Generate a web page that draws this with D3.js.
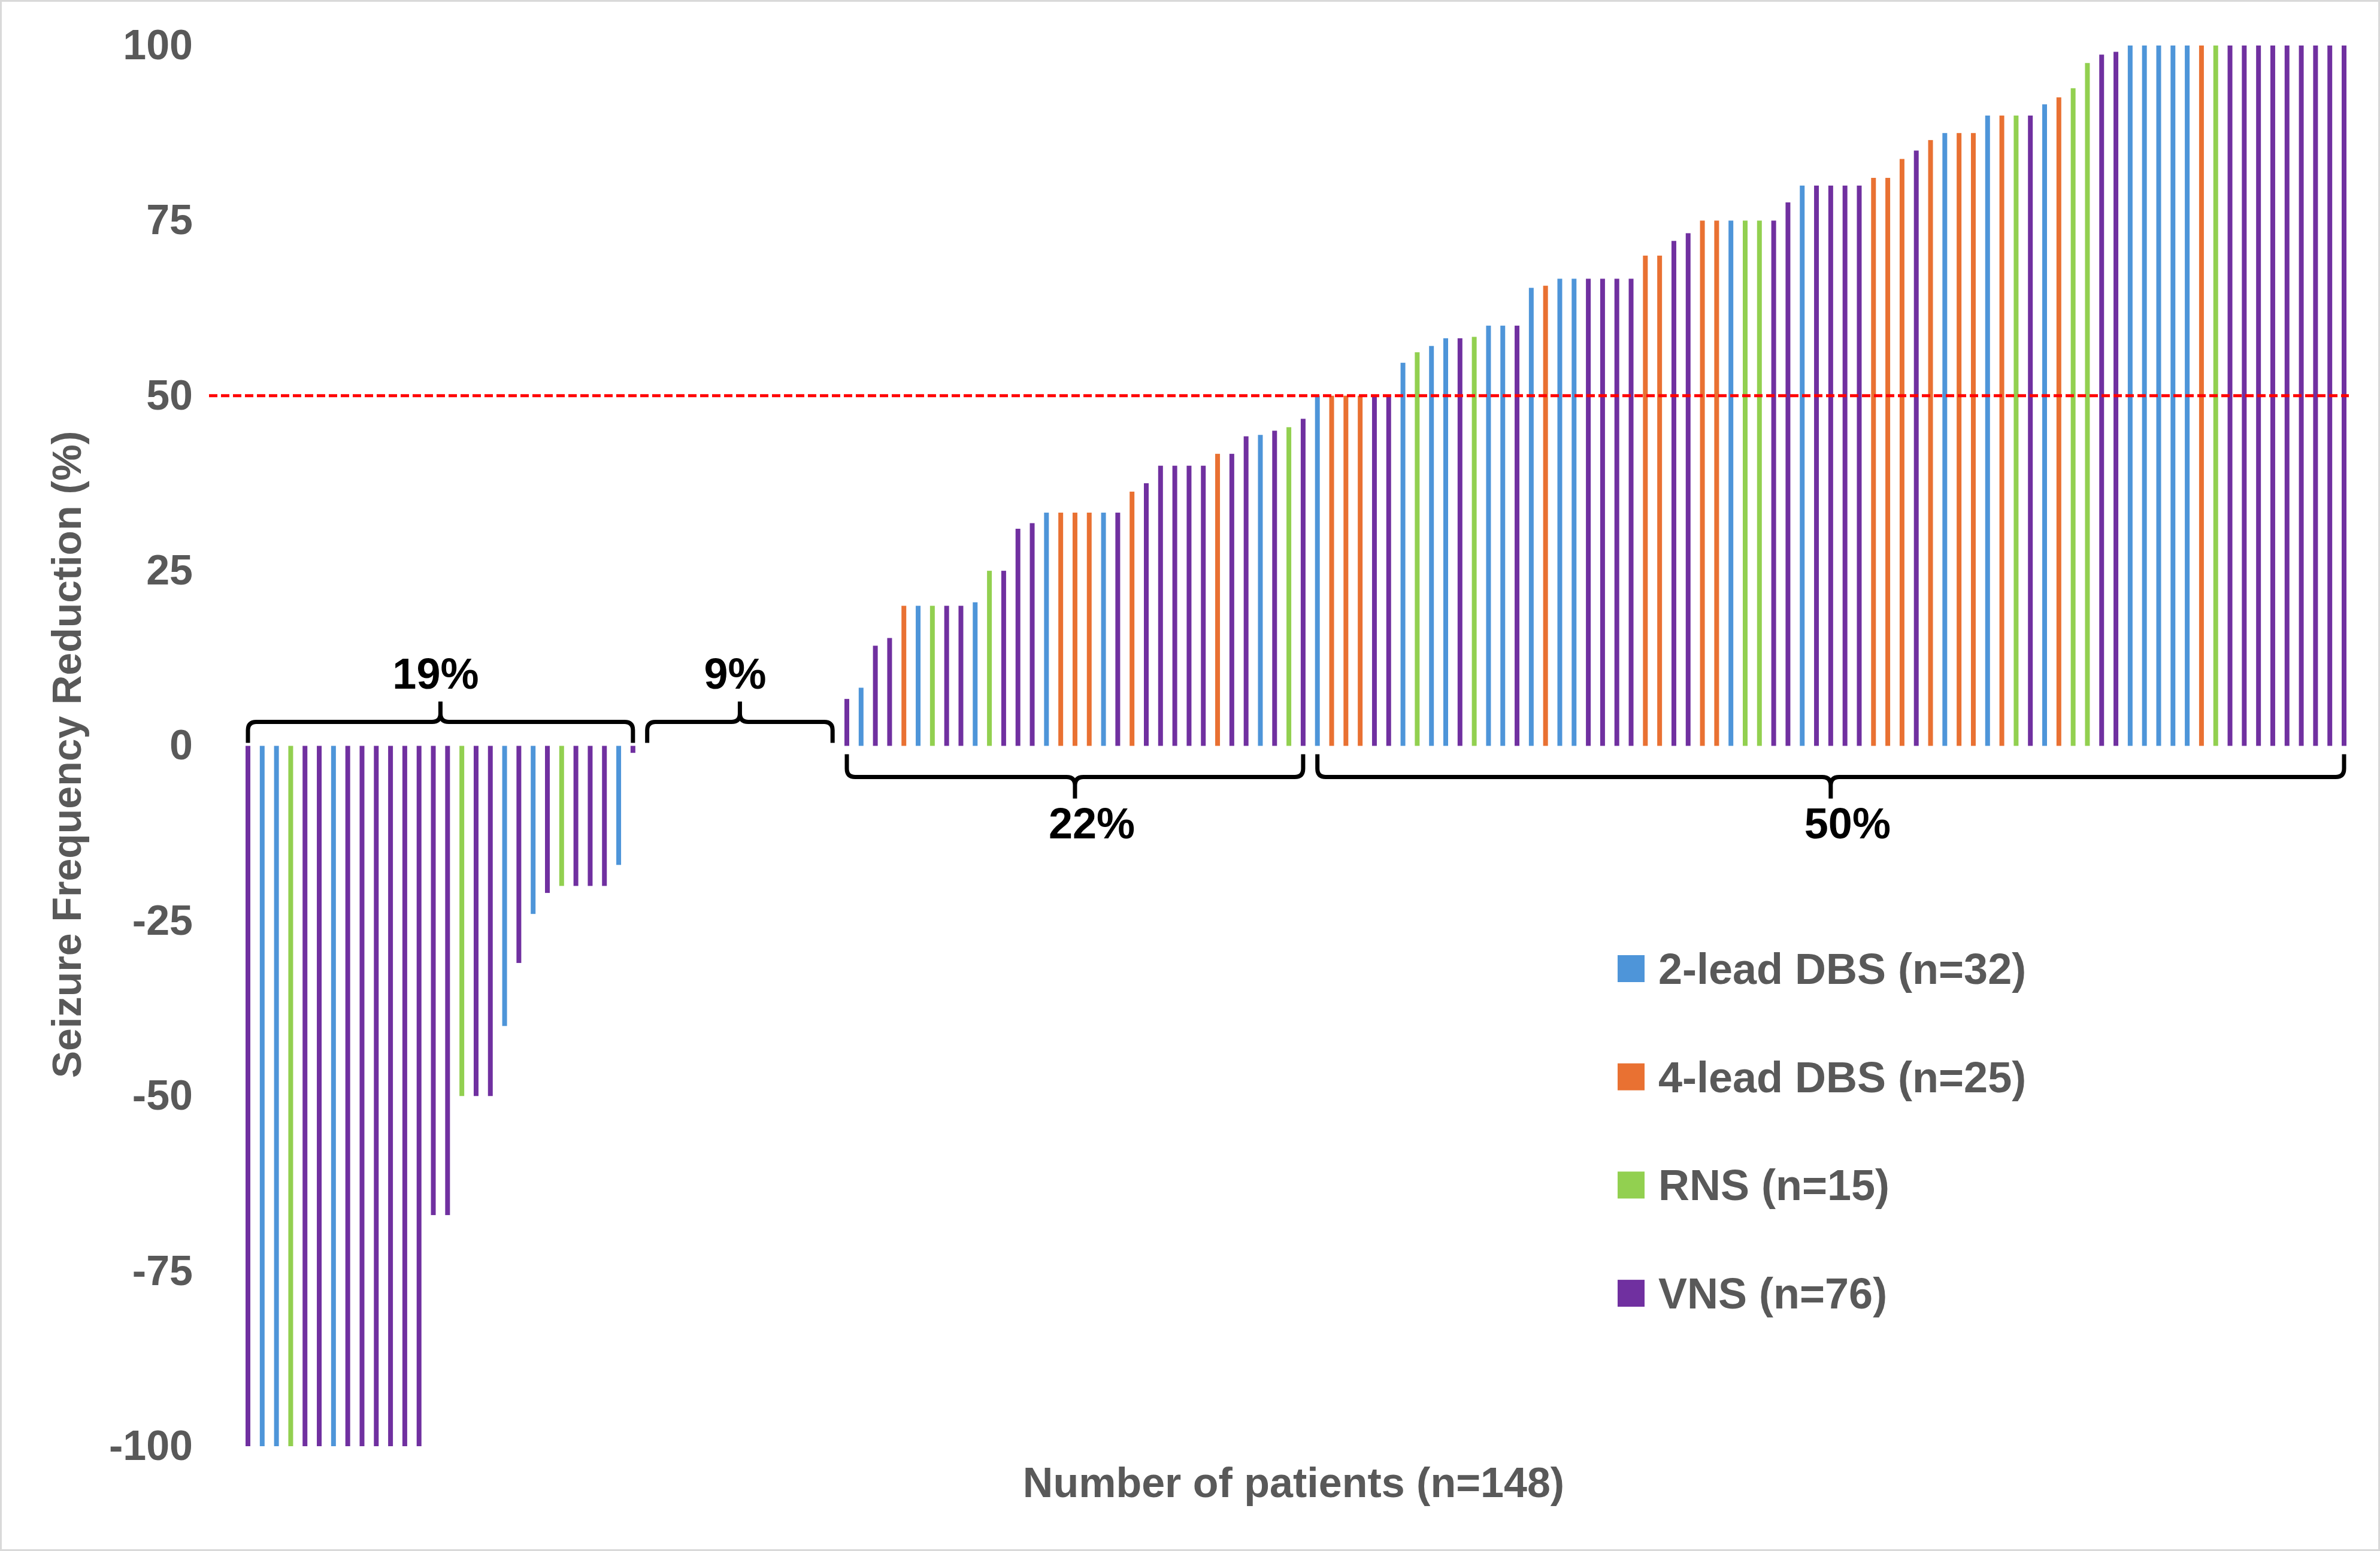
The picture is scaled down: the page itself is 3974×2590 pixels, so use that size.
<!DOCTYPE html>
<html>
<head>
<meta charset="utf-8">
<script src="https://cdn.jsdelivr.net/npm/d3@7"></script>
<style>
  body { margin: 0; background: #fff; }
  text { font-family: "Liberation Sans", Arial, sans-serif; font-weight: bold; }
</style>
</head>
<body>
<svg id="chart" width="3974" height="2590"></svg>
<script>
// Dispositivos y leyenda
var devices = ["2L", "4L", "RNS", "VNS"];
var legendLabels = ["2-lead DBS (n=32)", "4-lead DBS (n=25)", "RNS (n=15)", "VNS (n=76)"];
var deviceColors = ["#4E95D9", "#E97132", "#92D050", "#7030A0"];

// Pacientes que empeoraron (valores negativos)
var negDevice = ["VNS","2L","2L","RNS","VNS","VNS","2L","VNS","VNS","VNS","VNS","VNS","VNS",
                 "VNS","VNS","RNS","VNS","VNS","2L","VNS","2L","VNS","RNS","VNS","VNS","VNS","2L","VNS"];
var negValue  = [-100,-100,-100,-100,-100,-100,-100,-100,-100,-100,-100,-100,-100,
                 -67,-67,-50,-50,-50,-40,-31,-24,-21,-20,-20,-20,-20,-17,-1];

// Sin cambio (0%)
var zeroDevice = ["VNS","VNS","4L","VNS","2L","VNS","VNS","RNS","VNS","VNS","4L","VNS","VNS","VNS"];

// Mejoraron
var posDevice = ["VNS","2L","VNS","VNS","4L","2L","RNS","VNS","VNS","2L",
                 "RNS","VNS","VNS","VNS","2L","4L","4L","4L","2L","VNS",
                 "4L","VNS","VNS","VNS","VNS","VNS","4L","VNS","VNS","2L",
                 "VNS","RNS","VNS",
                 "2L","4L","4L","4L","VNS","VNS","2L","RNS","2L","2L",
                 "VNS","RNS","2L","2L","VNS","2L","4L","2L","2L","VNS",
                 "VNS","VNS","VNS","4L","4L","VNS","VNS","4L","4L","2L",
                 "RNS","RNS","VNS","VNS","2L","VNS","VNS","VNS","VNS","4L",
                 "4L","4L","VNS","4L","2L","4L","4L","2L","4L","RNS",
                 "VNS","2L","4L","RNS","RNS","VNS","VNS","2L","2L","2L",
                 "2L","2L","4L","RNS","VNS","VNS","VNS","VNS","VNS","VNS",
                 "VNS","VNS","VNS"];
var posValue  = [6.7,8.3,14.3,15.4,20,20,20,20,20,20.5,
                 25,25,31,31.8,33.3,33.3,33.3,33.3,33.3,33.3,
                 36.3,37.5,40,40,40,40,41.7,41.7,44.2,44.4,
                 45,45.5,46.7,
                 50,50,50,50,50,50,54.7,56.2,57.1,58.2,
                 58.2,58.4,60,60,60,65.4,65.7,66.7,66.7,66.7,
                 66.7,66.7,66.7,70,70,72.1,73.2,75,75,75,
                 75,75,75,77.6,80,80,80,80,80,81.1,
                 81.1,83.8,85,86.5,87.5,87.5,87.5,90,90,90,
                 90,91.6,92.6,93.9,97.5,98.7,99.1,100,100,100,
                 100,100,100,100,100,100,100,100,100,100,
                 100,100,100];

var yTicks = [-100, -75, -50, -25, 0, 25, 50, 75, 100];
var threshold = 50;
var groupLabels = ["19%", "9%", "22%", "50%"];
var xTitle = "Number of patients (n=148)";
var yTitle = "Seizure Frequency Reduction (%)";

var patients = [];
negDevice.forEach(function(d, i) { patients.push({ device: d, value: negValue[i] }); });
zeroDevice.forEach(function(d) { patients.push({ device: d, value: 0 }); });
posDevice.forEach(function(d, i) { patients.push({ device: d, value: posValue[i] }); });

var svg = d3.select("#chart");
var W = 3974, H = 2590;

svg.append("rect")
    .attr("x", 1.5).attr("y", 1.5)
    .attr("width", W - 3).attr("height", H - 3)
    .attr("fill", "#fff").attr("stroke", "#D9D9D9").attr("stroke-width", 3);

var x = d3.scalePoint()
    .domain(d3.range(patients.length))
    .range([414, 3914]);

var y = d3.scaleLinear()
    .domain([-100, 100])
    .range([2415, 76]);

var color = d3.scaleOrdinal().domain(devices).range(deviceColors);
var barW = 8;

// eje Y (solo etiquetas)
var yAxis = svg.append("g")
    .attr("transform", "translate(322,0)")
    .call(d3.axisLeft(y).tickValues(yTicks).tickSize(0).tickPadding(0)
        .tickFormat(function(d) { return String(d); }));
yAxis.select(".domain").remove();
yAxis.selectAll("text")
    .attr("font-size", 70)
    .attr("font-family", "Liberation Sans, Arial, sans-serif")
    .attr("font-weight", "bold")
    .attr("fill", "#595959");

// barras
svg.append("g").selectAll("rect")
    .data(patients)
  .enter().append("rect")
    .attr("x", function(d, i) { return x(i) - barW / 2; })
    .attr("width", barW)
    .attr("y", function(d) { return y(Math.max(0, d.value)); })
    .attr("height", function(d) { return Math.abs(y(d.value) - y(0)); })
    .attr("fill", function(d) { return color(d.device); });

// linea del 50%
svg.append("line")
    .attr("x1", 349).attr("x2", 3922)
    .attr("y1", y(threshold)).attr("y2", y(threshold))
    .attr("stroke", "#FF0000")
    .attr("stroke-width", 5)
    .attr("stroke-dasharray", "14,6");

// grupos: empeoraron, sin cambio, <50, >=50
var groupTest = [
  function(v) { return v < 0; },
  function(v) { return v === 0; },
  function(v) { return v > 0 && v < threshold; },
  function(v) { return v >= threshold; }
];
var groups = groupTest.map(function(test, gi) {
  var idx = [];
  patients.forEach(function(p, i) { if (test(p.value)) idx.push(i); });
  return { label: groupLabels[gi], first: d3.min(idx), last: d3.max(idx), top: gi < 2 };
});

function bracePath(x0, x1, yb, s, endH, tipH) {
  var r = 14, xm = (x0 + x1) / 2;
  var yEnd = yb + s * endH, yTip = yb - s * tipH;
  return "M" + x0 + "," + yEnd +
    "L" + x0 + "," + (yb + s * r) +
    "Q" + x0 + "," + yb + " " + (x0 + r) + "," + yb +
    "L" + (xm - r) + "," + yb +
    "Q" + xm + "," + yb + " " + xm + "," + (yb - s * r) +
    "L" + xm + "," + yTip +
    "M" + xm + "," + (yb - s * r) +
    "Q" + xm + "," + yb + " " + (xm + r) + "," + yb +
    "L" + (x1 - r) + "," + yb +
    "Q" + x1 + "," + yb + " " + x1 + "," + (yb + s * r) +
    "L" + x1 + "," + yEnd;
}

var brace = svg.append("g").selectAll("g")
    .data(groups)
  .enter().append("g");

brace.append("path")
    .attr("d", function(g) {
      var x0 = x(g.first), x1 = x(g.last);
      if (g.top) return bracePath(x0, x1, y(0) - 40, 1, 35, 34);
      return bracePath(x0, x1, y(0) + 52, -1, 38, 36);
    })
    .attr("fill", "none")
    .attr("stroke", "#000")
    .attr("stroke-width", 7);

brace.append("text")
    .attr("x", function(g) { return (x(g.first) + x(g.last)) / 2 + (g.top ? -8 : 28); })
    .attr("y", function(g) { return g.top ? y(0) - 40 - 34 - 22 : y(0) + 52 + 36 + 66; })
    .attr("text-anchor", "middle")
    .attr("font-size", 72)
    .attr("fill", "#000")
    .text(function(g) { return g.label; });

// leyenda
var legend = svg.append("g").selectAll("g")
    .data(devices)
  .enter().append("g")
    .attr("transform", function(d, i) { return "translate(2701," + (1617 + i * 180.7) + ")"; });

legend.append("rect")
    .attr("x", 0).attr("y", -22)
    .attr("width", 45).attr("height", 45)
    .attr("fill", function(d) { return color(d); });

legend.append("text")
    .attr("x", 68)
    .attr("dy", "0.36em")
    .attr("font-size", 72)
    .attr("fill", "#595959")
    .text(function(d, i) { return legendLabels[i]; });

// titulos
svg.append("text")
    .attr("x", 2160).attr("y", 2500)
    .attr("text-anchor", "middle")
    .attr("font-size", 70)
    .attr("fill", "#595959")
    .text(xTitle);

svg.append("text")
    .attr("transform", "translate(111,1260) rotate(-90)")
    .attr("dy", "0.35em")
    .attr("text-anchor", "middle")
    .attr("font-size", 68)
    .attr("fill", "#595959")
    .text(yTitle);
</script>
</body>
</html>
